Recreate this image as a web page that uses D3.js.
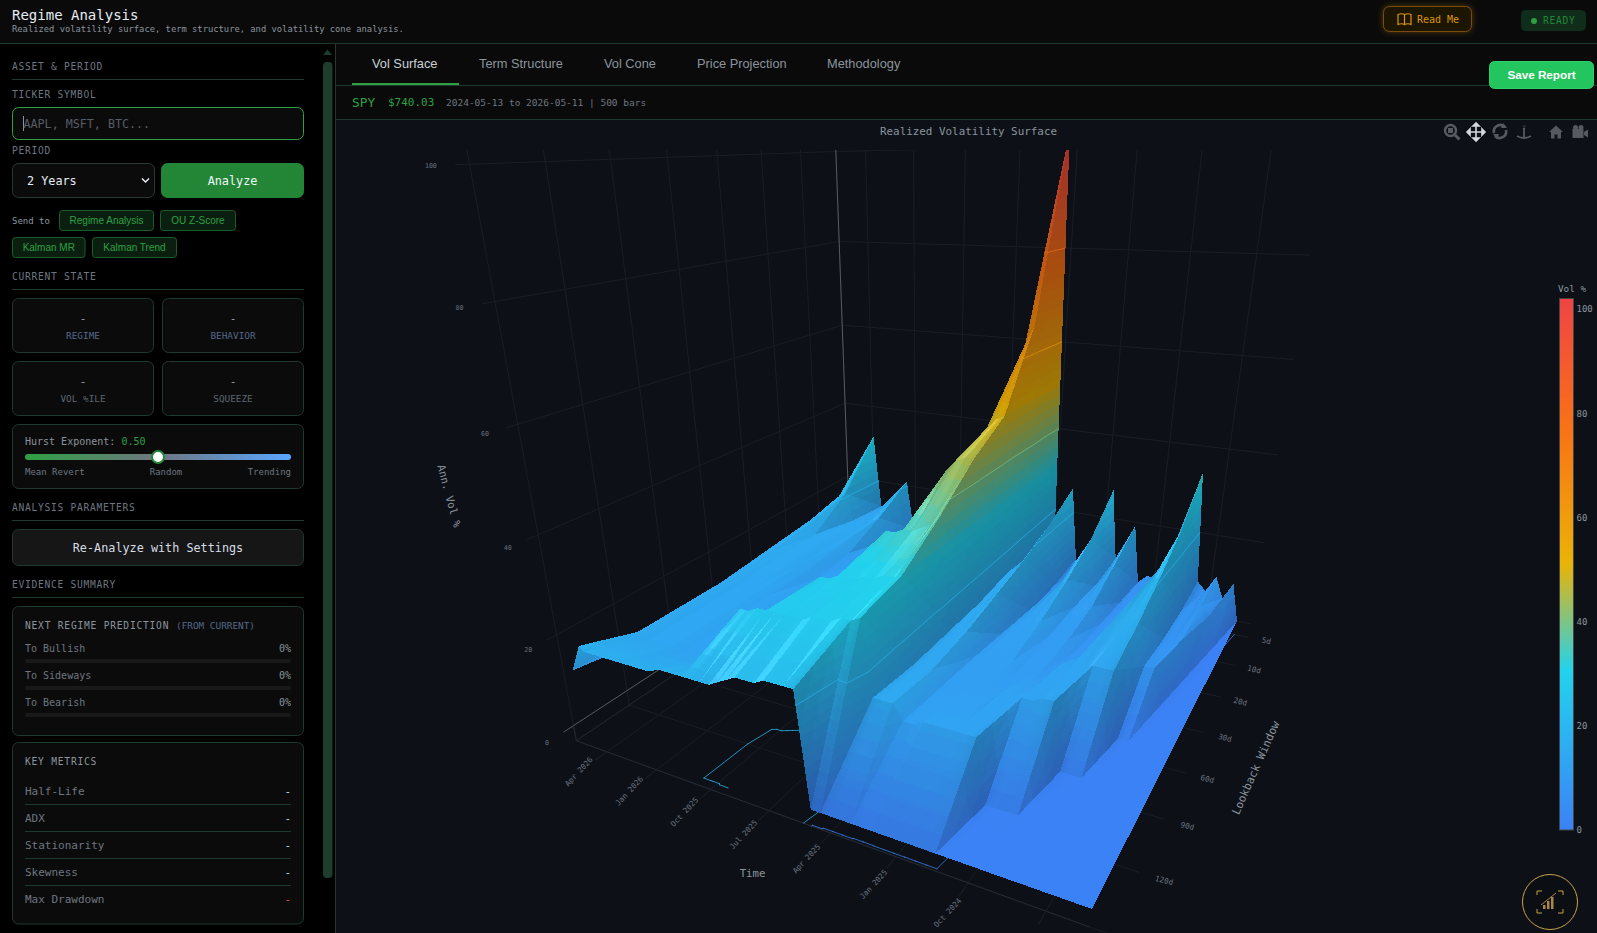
<!DOCTYPE html>
<html>
<head>
<meta charset="utf-8">
<title>Regime Analysis</title>
<script src="https://cdn.jsdelivr.net/npm/d3@7"></script>
<style>
  html, body { margin: 0; padding: 0; background: #000; overflow: hidden; }
  svg { display: block; }
</style>
</head>
<body>
<script>
// time columns of the surface, oldest first
const columnDates = [
  '2024-05-13','2024-05-27','2024-06-10','2024-06-24','2024-07-08','2024-07-22','2024-08-05','2024-08-19','2024-09-02','2024-09-16',
  '2024-09-30','2024-10-14','2024-10-28','2024-11-11','2024-11-25','2024-12-09','2024-12-23','2025-01-06','2025-01-20','2025-02-03',
  '2025-02-17','2025-03-03','2025-03-17','2025-03-31','2025-04-14','2025-04-28','2025-05-12','2025-05-26','2025-06-09','2025-06-23',
  '2025-07-07','2025-07-21','2025-08-04','2025-08-18','2025-09-01','2025-09-15','2025-09-29','2025-10-13','2025-10-27','2025-11-10',
  '2025-11-24','2025-12-08','2025-12-22','2026-01-05','2026-01-19','2026-02-02','2026-02-16','2026-03-02','2026-03-16','2026-03-30',
  '2026-04-13','2026-04-20','2026-05-11'
];

// annualised vol per lookback window, one value per column
const vol5d = [
  0,9,5,10,6,8,34,10,6,9,
  7,7,5,19,13,10,27,8,7,6,
  8,26,12,16,103,48,22,14,12,8,
  12,7,13,6,14,8,11,15,7,13,
  9,15,10,8,21,19,12,13,13,32,
  14,15,17
];
const vol10d = [
  0,0,7,9,7,7,26,19,7,8,
  7,6,6,15,12,9,20,14,7,7,
  7,22,14,14,66,62,30,20,13,9,
  12,9,11,8,12,9,12,13,8,12,
  10,13,11,10,16,15,14,14,14,21,
  20,17,16
];
const vol20d = [
  0,0,0,8,7,7,21,19,17,8,
  8,7,7,11,11,10,16,14,12,8,
  7,19,16,15,50,49,47,24,17,12,
  11,10,12,9,10,12,11,12,9,11,
  10,13,12,11,12,14,14,15,15,15,
  17,17,15
];
const vol30d = [
  0,0,0,0,8,8,17,17,16,15,
  9,8,8,10,10,10,13,12,12,11,
  8,17,15,14,45,45,44,42,19,15,
  12,11,12,11,11,12,11,11,11,12,
  11,12,12,12,11,13,14,15,15,15,
  16,16,14
];
const vol60d = [
  0,0,0,0,0,0,14,14,14,13,
  13,13,9,10,10,10,11,11,11,11,
  10,15,14,14,38,36,35,34,34,33,
  33,17,15,13,12,12,12,12,12,12,
  12,12,12,12,13,13,14,14,14,14,
  15,15,13
];
const vol90d = [
  0,0,0,0,0,0,0,0,0,14,
  14,13,13,13,13,11,11,11,11,11,
  11,14,14,14,32,31,31,30,30,29,
  29,29,28,28,15,14,13,12,12,12,
  12,12,13,13,13,13,14,14,14,14,
  15,15,12
];
const vol120d = [
  0,0,0,0,0,0,0,0,0,0,
  0,0,0,13,13,13,13,13,13,12,
  12,15,15,15,30,29,29,28,28,28,
  27,27,27,27,27,27,26,26,16,14,
  14,13,13,13,13,13,14,14,14,14,
  15,15,11
];
const vol252d = [
  0,0,0,0,0,0,0,0,0,0,
  0,0,0,0,0,0,0,0,0,0,
  0,0,0,0,0,0,23,23,23,23,
  22,22,22,21,20,19,19,19,19,19,
  19,19,18,18,18,18,18,18,18,18,
  18,19,13
];
const volRows = [vol5d, vol10d, vol20d, vol30d, vol60d, vol90d, vol120d, vol252d];
const windowLabels = ['5d','10d','20d','30d','60d','90d','120d','252d'];

const timeTicks = ['2024-07-01','2024-10-01','2025-01-01','2025-04-01','2025-07-01','2025-10-01','2026-01-01','2026-04-01'];
const timeTickLabels = ['Jul 2024','Oct 2024','Jan 2025','Apr 2025','Jul 2025','Oct 2025','Jan 2026','Apr 2026'];
const volTicks = [0,20,40,60,80,100];
const contourLevels = [20,40,60,80];

const colorStops = [0,30.6,51,76.5,102];
const colorValues = ['#3b82f6','#22d3ee','#eab308','#f97316','#ef4444'];

const tabNames = ['Vol Surface','Term Structure','Vol Cone','Price Projection','Methodology'];
const predictionRows = ['To Bullish','To Sideways','To Bearish'];
const metricRows = ['Half-Life','ADX','Stationarity','Skewness','Max Drawdown'];

const MONO = '"DejaVu Sans Mono", monospace';
const SANS = '"Liberation Sans", Arial, sans-serif';
const LINE = '#1d3a2d';

const parseDay = d3.timeParse('%Y-%m-%d');
const svg = d3.select('body').append('svg').attr('width', 1597).attr('height', 933);
const defs = svg.append('defs');

function txt(g, x, y, s, o = {}) {
  return g.append('text').attr('x', x).attr('y', y).text(s)
    .attr('dominant-baseline', 'central')
    .attr('text-anchor', o.anchor || 'start')
    .attr('font-family', o.family || MONO)
    .attr('font-size', o.size || 10)
    .attr('font-weight', o.weight || 400)
    .attr('letter-spacing', o.ls || 0)
    .attr('fill', o.fill || '#8b949e');
}
function box(g, x, y, w, h, o = {}) {
  return g.append('rect').attr('x', x + .5).attr('y', y + .5).attr('width', w - 1).attr('height', h - 1)
    .attr('rx', o.r === undefined ? 6 : o.r)
    .attr('fill', o.fill || '#0b0b0b')
    .attr('stroke', o.stroke || LINE);
}
function hline(g, x0, x1, y, c) {
  g.append('line').attr('x1', x0).attr('x2', x1).attr('y1', y).attr('y2', y).attr('stroke', c || LINE);
}

// page frame
const frame = svg.append('g');
frame.append('rect').attr('width', 1597).attr('height', 933).attr('fill', '#000');
frame.append('rect').attr('width', 1597).attr('height', 43).attr('fill', '#0a0a0a');
frame.append('rect').attr('x', 336).attr('y', 44).attr('width', 1261).attr('height', 76).attr('fill', '#0a0a0a');
frame.append('rect').attr('x', 336).attr('y', 120).attr('width', 1261).attr('height', 813).attr('fill', '#0d1117');
hline(frame, 0, 1597, 43.5);
hline(frame, 336, 1597, 85.5);
hline(frame, 336, 1597, 119.5);
frame.append('line').attr('x1', 335.5).attr('x2', 335.5).attr('y1', 44).attr('y2', 933).attr('stroke', LINE);

// header
txt(frame, 12, 14.5, 'Regime Analysis', { size: 14, fill: '#e6edf3', weight: 500 });
txt(frame, 12, 29, 'Realized volatility surface, term structure, and volatility cone analysis.', { size: 8.8, fill: '#8b949e' });

defs.append('filter').attr('id', 'glow').attr('x', '-20%').attr('y', '-40%').attr('width', '140%').attr('height', '180%')
  .append('feDropShadow').attr('dx', 0).attr('dy', 0).attr('stdDeviation', 3).attr('flood-color', '#d9930f').attr('flood-opacity', .35);
box(frame, 1383, 6, 89, 26, { fill: '#1f1505', stroke: '#7a4e0a', r: 6 }).attr('filter', 'url(#glow)');
frame.append('path').attr('d', 'M1398 14.5 q3.5 -1.5 6.5 0 v10 q-3 -1.5 -6.5 0 z M1404.5 14.5 q3.5 -1.5 6.5 0 v10 q-3 -1.5 -6.5 0 z')
  .attr('fill', 'none').attr('stroke', '#d9930f').attr('stroke-width', 1.2);
txt(frame, 1417, 19, 'Read Me', { size: 10, fill: '#d9930f' });
box(frame, 1521, 10, 65, 21, { fill: '#0f2d1a', stroke: '#0f2d1a', r: 4 });
frame.append('circle').attr('cx', 1534).attr('cy', 21).attr('r', 3).attr('fill', '#2ea043');
txt(frame, 1543, 20.5, 'READY', { size: 9.6, ls: .7, fill: '#238636' });

// tabs and info bar
const tabX = [372, 479, 604, 697, 827];
tabNames.forEach((t, i) => txt(frame, tabX[i], 63, t, { family: SANS, size: 12.8, fill: i === 0 ? '#c9d1d9' : '#8b949e' }));
frame.append('rect').attr('x', 352).attr('y', 83).attr('width', 107).attr('height', 2).attr('fill', '#2ea043');
box(frame, 1489, 61, 105, 28, { fill: '#22c55e', stroke: '#2fd06c', r: 5 });
txt(frame, 1541.5, 74.5, 'Save Report', { family: SANS, size: 11.7, weight: 700, fill: '#fff', anchor: 'middle' });
txt(frame, 352, 102, 'SPY', { size: 12.8, fill: '#2ea043', weight: 500 });
txt(frame, 388, 102.5, '$740.03', { size: 11, fill: '#2ea043' });
txt(frame, 446, 102, '2024-05-13 to 2026-05-11 | 500 bars', { size: 9.5, fill: '#6e7681' });

// sidebar
const side = svg.append('g');
side.append('rect').attr('x', 323).attr('y', 62).attr('width', 9.5).attr('height', 816).attr('rx', 4).attr('fill', '#1f3d2e');
side.append('path').attr('d', 'M327.5 49.5 l4.5 5.5 h-9 z').attr('fill', '#1f3d2e');

function sectionHead(t, y, lineY) {
  txt(side, 12, y, t, { size: 9.6, ls: .72, fill: '#6e7681' });
  hline(side, 12, 304, lineY);
}
sectionHead('ASSET & PERIOD', 66.5, 79.5);
txt(side, 12, 94.5, 'TICKER SYMBOL', { size: 9.6, ls: .72, fill: '#6e7681' });
box(side, 12, 107, 292, 33, { fill: '#0b0b0b', stroke: '#2ea043' });
side.append('line').attr('x1', 23.5).attr('x2', 23.5).attr('y1', 116).attr('y2', 131).attr('stroke', '#8b949e');
txt(side, 23.5, 123.5, 'AAPL, MSFT, BTC...', { size: 11.7, fill: '#555d66' });
txt(side, 12, 150.5, 'PERIOD', { size: 9.6, ls: .72, fill: '#6e7681' });
box(side, 12, 163, 143, 35, { fill: '#0b0b0b', stroke: '#2a3a32' });
txt(side, 27, 181, '2 Years', { size: 11.8, fill: '#e6edf3' });
side.append('path').attr('d', 'M142 178.5 l3.5 3.5 l3.5 -3.5').attr('fill', 'none').attr('stroke', '#e6edf3').attr('stroke-width', 1.5);
box(side, 161, 163, 143, 35, { fill: '#238636', stroke: '#238636' });
txt(side, 232.5, 181, 'Analyze', { size: 11.8, fill: '#f0f6fc', anchor: 'middle', weight: 500 });
txt(side, 12, 220.5, 'Send to', { size: 9, fill: '#8b949e' });
const chips = [['Regime Analysis', 59, 210, 95], ['OU Z-Score', 160, 210, 76], ['Kalman MR', 12, 237, 73.5], ['Kalman Trend', 92, 237, 85]];
chips.forEach(c => {
  box(side, c[1], c[2], c[3], 21, { fill: '#0a1f10', stroke: '#1a5c2a', r: 3 });
  txt(side, c[1] + c[3] / 2, c[2] + 10.5, c[0], { family: SANS, size: 10, fill: '#2ea043', anchor: 'middle' });
});
sectionHead('CURRENT STATE', 276.5, 289.5);
const stateCards = [['REGIME', 12, 298], ['BEHAVIOR', 162, 298], ['VOL %ILE', 12, 361], ['SQUEEZE', 162, 361]];
stateCards.forEach(c => {
  box(side, c[1], c[2], 142, 55);
  txt(side, c[1] + 71, c[2] + 20, '-', { size: 11, fill: '#9aa5b1', anchor: 'middle' });
  txt(side, c[1] + 71, c[2] + 37.5, c[0], { size: 9.4, fill: c[0] === 'BEHAVIOR' || c[0] === 'REGIME' ? '#55688a' : '#5d6670', anchor: 'middle' });
});
box(side, 12, 424, 292, 65);
txt(side, 25, 441, 'Hurst Exponent:', { size: 10, fill: '#8b949e' });
txt(side, 121.5, 441, '0.50', { size: 10, fill: '#2ea043' });
const hurstGrad = defs.append('linearGradient').attr('id', 'hurst');
hurstGrad.append('stop').attr('offset', 0).attr('stop-color', '#2ea043');
hurstGrad.append('stop').attr('offset', .5).attr('stop-color', '#6e7681');
hurstGrad.append('stop').attr('offset', 1).attr('stop-color', '#58a6ff');
side.append('rect').attr('x', 25).attr('y', 454).attr('width', 266).attr('height', 6).attr('rx', 3).attr('fill', 'url(#hurst)');
side.append('circle').attr('cx', 158).attr('cy', 457).attr('r', 6).attr('fill', '#fff').attr('stroke', '#238636').attr('stroke-width', 2);
txt(side, 25, 472, 'Mean Revert', { size: 9, fill: '#6e7681' });
txt(side, 166, 472, 'Random', { size: 9, fill: '#6e7681', anchor: 'middle' });
txt(side, 291, 472, 'Trending', { size: 9, fill: '#6e7681', anchor: 'end' });
sectionHead('ANALYSIS PARAMETERS', 507.5, 520.5);
box(side, 12, 529, 292, 37, { fill: '#161616' });
txt(side, 158, 547.5, 'Re-Analyze with Settings', { size: 11.8, fill: '#d5dde6', anchor: 'middle' });
sectionHead('EVIDENCE SUMMARY', 584.5, 597.5);
box(side, 12, 606, 292, 130);
txt(side, 25, 625.5, 'NEXT REGIME PREDICTION', { size: 9.6, ls: .78, fill: '#8b949e' });
txt(side, 176, 625.5, '(FROM CURRENT)', { size: 9.4, fill: '#55688a' });
predictionRows.forEach((t, i) => {
  const y = 648.5 + i * 27;
  txt(side, 25, y, t, { size: 10, fill: '#6e7681' });
  txt(side, 291, y, '0%', { size: 10, fill: '#8b949e', anchor: 'end' });
  side.append('rect').attr('x', 25).attr('y', y + 10.5).attr('width', 266).attr('height', 4).attr('rx', 2).attr('fill', '#191919');
});
box(side, 12, 742, 292, 182.5);
txt(side, 25, 761.5, 'KEY METRICS', { size: 9.6, ls: .78, fill: '#8b949e' });
metricRows.forEach((t, i) => {
  const y = 791.5 + i * 27;
  txt(side, 25, y, t, { size: 11, fill: '#6e7681' });
  txt(side, 291, y, '-', { size: 11, fill: i === 4 ? '#f85149' : '#c9d1d9', anchor: 'end' });
  if (i < 4) hline(side, 25, 291, y + 13);
});

// plot header
txt(frame, 968.5, 131, 'Realized Volatility Surface', { size: 10.9, fill: '#8b949e', anchor: 'middle' });

// perspective camera: corners of the z=0 plane and two heights on the newest/long-window edge
const camO = [1092, 909], camT = [583, 729], camW = [1237, 621], camD = [858, 546];
const camZ60 = [528, 426], camZ100 = [481, 164];
const detCam = (camT[0] - camD[0]) * (camW[1] - camD[1]) - (camW[0] - camD[0]) * (camT[1] - camD[1]);
const wT = ((camO[0] - camD[0]) * (camW[1] - camD[1]) - (camW[0] - camD[0]) * (camO[1] - camD[1])) / detCam;
const wR = ((camT[0] - camD[0]) * (camO[1] - camD[1]) - (camO[0] - camD[0]) * (camT[1] - camD[1])) / detCam;
const colT = [wT * camT[0] - camO[0], wT * camT[1] - camO[1], wT - 1];
const colR = [wR * camW[0] - camO[0], wR * camW[1] - camO[1], wR - 1];
const colZw = wT * ((camZ60[1] - camT[1]) / .6 - (camZ100[1] - camT[1])) / (camZ100[1] - camZ60[1]);
const colZ = [
  wT * (camZ100[0] - camT[0]) + camZ100[0] * colZw,
  wT * (camZ100[1] - camT[1]) + camZ100[1] * colZw,
  colZw
];

const timeScale = d3.scaleTime().domain([parseDay(columnDates[0]), parseDay(columnDates[columnDates.length - 1])]).range([0, 1]);
const rowScale = d3.scaleLinear().domain([7, 0]).range([0, 1]);
const volScale = d3.scaleLinear().domain([0, 100]).range([0, 1]);
const colorScale = d3.scaleLinear().domain(colorStops).range(colorValues).interpolate(d3.interpolateRgb).clamp(true);

function project(t, r, z) {
  const s = volScale(z);
  const w = 1 + t * colT[2] + r * colR[2] + s * colZ[2];
  return [
    (camO[0] + t * colT[0] + r * colR[0] + s * colZ[0]) / w,
    (camO[1] + t * colT[1] + r * colR[1] + s * colZ[1]) / w
  ];
}
const pathOf = pts => 'M' + pts.map(p => p[0].toFixed(1) + ',' + p[1].toFixed(1)).join('L') + 'Z';

defs.append('clipPath').attr('id', 'scene').append('rect').attr('x', 337).attr('y', 150).attr('width', 1260).attr('height', 783);
const scene = svg.append('g').attr('clip-path', 'url(#scene)');

// box grid
const FLOOR = -3.5, TOP = 102, WALL = 1.025;
const gridColor = '#191d25';
const timeN = timeTicks.map(d => timeScale(parseDay(d)));
const rowN = windowLabels.map((d, i) => rowScale(i));
const seg = (a, b, c, w) => scene.append('line')
  .attr('x1', a[0]).attr('y1', a[1]).attr('x2', b[0]).attr('y2', b[1])
  .attr('stroke', c || gridColor).attr('stroke-width', w || 1);

timeN.forEach(t => {
  seg(project(t, -.03, FLOOR), project(t, 1, FLOOR));
  seg(project(t, 1, FLOOR), project(t, 1, TOP));
});
rowN.forEach(r => {
  seg(project(-.03, r, FLOOR), project(WALL, r, FLOOR));
  seg(project(WALL, r, FLOOR), project(WALL, r, TOP));
});
volTicks.forEach(z => {
  seg(project(-.03, 1, z), project(WALL, 1, z));
  seg(project(WALL, -.025, z), project(WALL, 1, z), z === 0 ? '#565b62' : gridColor);
});
seg(project(0, 0, FLOOR), project(WALL, 0, FLOOR), '#242932');
seg(project(WALL, 0, FLOOR), project(WALL, 1, FLOOR), '#242932');
seg(project(WALL, 0, FLOOR), project(WALL, 0, 0), '#242932');
seg(project(WALL, 1, 0), project(WALL, 1, TOP), '#565b62');

// surface mesh
const nCols = columnDates.length, nRows = volRows.length;
const tN = columnDates.map(d => timeScale(parseDay(d)));
const aspect = [1.5, 1, .8];
const normalAt = (k, r) => {
  const k0 = Math.max(0, k - 1), k1 = Math.min(nCols - 1, k + 1);
  const r0 = Math.max(0, r - 1), r1 = Math.min(nRows - 1, r + 1);
  const dzT = (volRows[r][k1] - volRows[r][k0]) / 100 * aspect[2] / ((tN[k1] - tN[k0]) * aspect[0]);
  const dzR = (volRows[r1][k] - volRows[r0][k]) / 100 * aspect[2] / ((rowScale(r1) - rowScale(r0)) * aspect[1]);
  const len = Math.hypot(dzT, dzR, 1);
  return [-dzT / len, -dzR / len, 1 / len];
};
const vertex = (k, r) => {
  const n = normalAt(k, r);
  return { t: tN[k], r: rowScale(r), z: volRows[r][k], nx: n[0], ny: n[1], nz: n[2] };
};
const mix = (a, b, f) => {
  const o = {};
  for (const key in a) o[key] = a[key] + (b[key] - a[key]) * f;
  return o;
};
function clipAbove(poly, lim, keepAbove) {
  const out = [];
  poly.forEach((p, i) => {
    const q = poly[(i + 1) % poly.length];
    const pIn = keepAbove ? p.z >= lim : p.z <= lim;
    const qIn = keepAbove ? q.z >= lim : q.z <= lim;
    if (pIn) out.push(p);
    if (pIn !== qIn) out.push(mix(p, q, (lim - p.z) / (q.z - p.z)));
  });
  return out;
}
function faceNormal(a, b, c) {
  const u = [(b.t - a.t) * aspect[0], (b.r - a.r) * aspect[1], (b.z - a.z) / 100 * aspect[2]];
  const v = [(c.t - a.t) * aspect[0], (c.r - a.r) * aspect[1], (c.z - a.z) / 100 * aspect[2]];
  const n = [u[1] * v[2] - u[2] * v[1], u[2] * v[0] - u[0] * v[2], u[0] * v[1] - u[1] * v[0]];
  const len = Math.hypot(n[0], n[1], n[2]) * Math.sign(n[2] || 1);
  return n.map(d => d / len);
}
const hv = [.2, -.3, .93];
const hvLen = Math.hypot(hv[0], hv[1], hv[2]);
function shadeColor(z, nx, ny, nz) {
  const len = Math.hypot(nx, ny, nz) || 1;
  const up = Math.max(0, nz / len);
  const shade = .66 + .34 * Math.pow(up, 1.4);
  const spec = Math.pow(Math.max(0, (nx * hv[0] + ny * hv[1] + nz * hv[2]) / len / hvLen), 180) * .12;
  const c = d3.rgb(colorScale(z));
  const f = v => Math.min(255, v * shade + 255 * spec);
  return d3.rgb(f(c.r), f(c.g), f(c.b)).formatHex();
}
const facets = [], floorLines = [];
const BAND = 2, SUB = 3, FACE_WEIGHT = .6;
function addBands(tri, face) {
  const zs = tri.map(v => v.z);
  const lo = Math.floor(d3.min(zs) / BAND) * BAND, hi = Math.ceil(d3.max(zs) / BAND) * BAND;
  for (let b = lo; b < Math.max(hi, lo + BAND); b += BAND) {
    let poly = tri;
    if (hi > lo + BAND) poly = clipAbove(clipAbove(tri, b, true), b + BAND, false);
    if (poly.length < 3) continue;
    const m = {};
    for (const key of ['z', 'nx', 'ny', 'nz']) m[key] = d3.mean(poly, v => v[key]);
    const nx = face[0] * FACE_WEIGHT + m.nx * (1 - FACE_WEIGHT);
    const ny = face[1] * FACE_WEIGHT + m.ny * (1 - FACE_WEIGHT);
    const nz = face[2] * FACE_WEIGHT + m.nz * (1 - FACE_WEIGHT);
    facets.push({ d: pathOf(poly.map(v => project(v.t, v.r, v.z))), fill: shadeColor(m.z, nx, ny, nz) });
  }
}
function addTriangle(tri) {
  const face = faceNormal(tri[0], tri[1], tri[2]);
  // split only to vary the shading, the piece stays on the plane of its triangle
  const bary = (i, j) => {
    const c = j / SUB, b = i / SUB, a = 1 - b - c;
    const o = {};
    for (const key in tri[0]) o[key] = tri[0][key] * a + tri[1][key] * b + tri[2][key] * c;
    return o;
  };
  for (let j = 0; j < SUB; j++) {
    for (let i = 0; i < SUB - j; i++) {
      addBands([bary(i, j), bary(i + 1, j), bary(i, j + 1)], face);
      if (i + j < SUB - 1) addBands([bary(i + 1, j), bary(i + 1, j + 1), bary(i, j + 1)], face);
    }
  }
  contourLevels.concat([.5]).forEach(level => {
    const pts = [];
    tri.forEach((p, i) => {
      const q = tri[(i + 1) % 3];
      if ((p.z - level) * (q.z - level) < 0) pts.push(mix(p, q, (level - p.z) / (q.z - p.z)));
    });
    if (pts.length !== 2) return;
    if (level === .5 || level === 20) {
      floorLines.push({ a: project(pts[0].t, pts[0].r, FLOOR), b: project(pts[1].t, pts[1].r, FLOOR), c: colorScale(level) });
    }
    if (level > 1) facets.push({ line: true, a: project(pts[0].t, pts[0].r, level), b: project(pts[1].t, pts[1].r, level), c: colorScale(level) });
  });
}
// back to front: far windows first, newest columns first
for (let r = 0; r < nRows - 1; r++) {
  for (let k = nCols - 2; k >= 0; k--) {
    const v00 = vertex(k, r), v10 = vertex(k + 1, r), v01 = vertex(k, r + 1), v11 = vertex(k + 1, r + 1);
    addTriangle([v10, v00, v11]);
    addTriangle([v00, v01, v11]);
  }
}

scene.append('g').selectAll('line').data(floorLines).join('line')
  .attr('x1', d => d.a[0]).attr('y1', d => d.a[1]).attr('x2', d => d.b[0]).attr('y2', d => d.b[1])
  .attr('stroke', d => d.c).attr('stroke-width', 1).attr('stroke-linecap', 'round').attr('opacity', .75);

const mesh = scene.append('g');
facets.forEach(f => {
  if (f.line) {
    mesh.append('line').attr('x1', f.a[0]).attr('y1', f.a[1]).attr('x2', f.b[0]).attr('y2', f.b[1])
      .attr('stroke', f.c).attr('stroke-width', .8).attr('opacity', .8);
  } else {
    mesh.append('path').attr('d', f.d).attr('fill', f.fill).attr('shape-rendering', 'crispEdges');
  }
});

// axis ticks and labels
const axes = svg.append('g');
const LABEL_BOTTOM = 925;
timeN.forEach((t, i) => {
  seg(project(t, 0, FLOOR), project(t, -.03, FLOOR));
  const p = project(t, -.07, FLOOR);
  if (p[1] > LABEL_BOTTOM) return;
  txt(axes, p[0], p[1], timeTickLabels[i], { size: 7.6, fill: '#6b7280', anchor: 'middle' })
    .attr('transform', `rotate(-47 ${p[0]} ${p[1]})`);
});
rowN.forEach((r, i) => {
  const p = project(-.068, r, FLOOR);
  if (p[1] > LABEL_BOTTOM) return;
  txt(axes, p[0], p[1], windowLabels[i], { size: 7.6, fill: '#6b7280', anchor: 'middle' })
    .attr('transform', `rotate(14 ${p[0]} ${p[1]})`);
});
volTicks.forEach(z => {
  const p = project(WALL, -.065, z);
  txt(axes, p[0], p[1], z, { size: 6.6, fill: '#6b7280', anchor: 'middle' });
});
txt(axes, 752.5, 873, 'Time', { size: 10.7, fill: '#8b949e', anchor: 'middle' });
txt(axes, 449, 496, 'Ann. Vol %', { size: 10.7, fill: '#8b949e', anchor: 'middle' }).attr('transform', 'rotate(75 449 496)');
txt(axes, 1256, 768, 'Lookback Window', { size: 11.2, fill: '#8b949e', anchor: 'middle' }).attr('transform', 'rotate(-66 1256 768)');

// colorbar
const barScale = d3.scaleLinear().domain([0, 102]).range([829.8, 298.6]);
const barGrad = defs.append('linearGradient').attr('id', 'volbar').attr('x1', 0).attr('x2', 0).attr('y1', 1).attr('y2', 0);
colorStops.forEach((s, i) => barGrad.append('stop').attr('offset', s / 102).attr('stop-color', colorValues[i]));
axes.append('rect').attr('x', 1559.5).attr('y', 298.5).attr('width', 14).attr('height', 531.5)
  .attr('fill', 'url(#volbar)').attr('stroke', '#444').attr('stroke-width', 1);
const barAxis = axes.append('g').attr('transform', 'translate(1573.5,0)')
  .call(d3.axisRight(barScale).tickValues(volTicks).tickSize(0).tickPadding(3));
barAxis.select('.domain').remove();
barAxis.selectAll('text').attr('font-family', MONO).attr('font-size', 9).attr('fill', '#8b949e');
txt(axes, 1572, 288.5, 'Vol %', { size: 9.4, fill: '#8b949e', anchor: 'middle' });

// modebar
const bar = svg.append('g').attr('fill', 'none');
const dim = '#565a60';
bar.append('circle').attr('cx', 1450.5).attr('cy', 130.5).attr('r', 5.5).attr('stroke', dim).attr('stroke-width', 2.5);
bar.append('rect').attr('x', 1448).attr('y', 128).attr('width', 5).attr('height', 5).attr('fill', dim);
bar.append('path').attr('d', 'M1455 135 l4.5 4.5').attr('stroke', dim).attr('stroke-width', 3);
bar.append('path').attr('d', 'M1476 124 v16 M1468 132 h16 M1476 123 l-3 3 h6 z M1476 141 l-3 -3 h6 z M1467 132 l3 -3 v6 z M1485 132 l-3 -3 v6 z')
  .attr('stroke', '#d5d8dc').attr('stroke-width', 1.6).attr('fill', '#d5d8dc');
bar.append('path').attr('d', 'M1494 133 a6.5 6.5 0 0 1 11 -6 M1506 130 a6.5 6.5 0 0 1 -11 6').attr('stroke', dim).attr('stroke-width', 2.6);
bar.append('path').attr('d', 'M1503 123 l4 5 h-6 z M1497 139 l-4 -5 h6 z').attr('fill', dim);
bar.append('path').attr('d', 'M1524 128 v9 M1517 136 q7 4 14 0').attr('stroke', dim).attr('stroke-width', 1.8);
txt(bar, 1524, 126, 'z', { size: 6, fill: dim, anchor: 'middle' });
bar.append('path').attr('d', 'M1549 132 l7 -6.5 l7 6.5 h-2 v6.5 h-3.5 v-4 h-3 v4 h-3.5 v-6.5 z').attr('fill', dim);
bar.append('path').attr('d', 'M1572.5 129 h11 v9 h-11 z M1584 132 l4 -2.5 v8 l-4 -2.5 z').attr('fill', dim);
bar.append('circle').attr('cx', 1575.5).attr('cy', 127.5).attr('r', 2.5).attr('fill', dim);
bar.append('circle').attr('cx', 1581).attr('cy', 127.5).attr('r', 2.5).attr('fill', dim);

// corner badge
const badge = svg.append('g').attr('fill', 'none');
badge.append('circle').attr('cx', 1550).attr('cy', 902).attr('r', 27.5).attr('stroke', '#c9a24a').attr('stroke-width', 1).attr('fill', '#0b0e13');
badge.append('path').attr('d', 'M1537 895 v-4 h5 M1563 895 v-4 h-5 M1537 909 v4 h5 M1563 909 v4 h-5').attr('stroke', '#c9a24a').attr('stroke-width', 1);
badge.append('path').attr('d', 'M1543 909 v-4 h2.5 v4 z M1547 909 v-8 h2.5 v8 z M1551 909 v-12 h2.5 v12 z').attr('fill', '#a8884a');
badge.append('path').attr('d', 'M1541 905 l15 -12').attr('stroke', '#a8884a');
</script>
</body>
</html>
